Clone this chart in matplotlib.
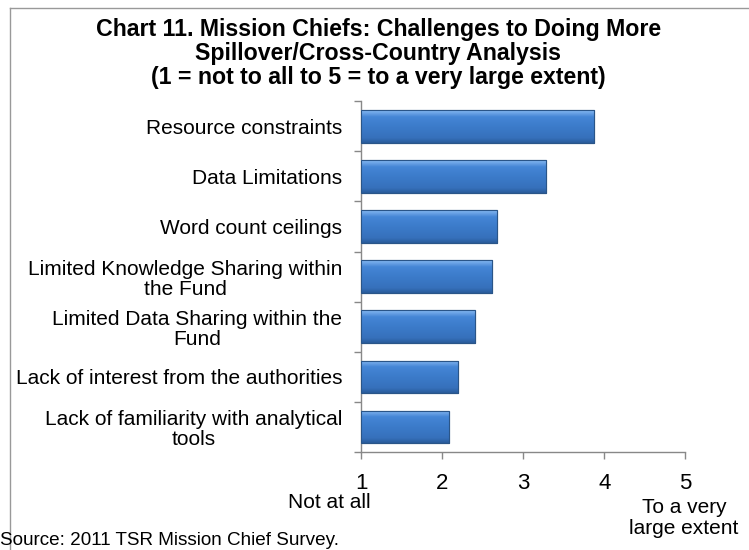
import numpy as np
import matplotlib.pyplot as plt
from matplotlib.colors import LinearSegmentedColormap

plt.rcParams['font.family'] = ['Liberation Sans', 'DejaVu Sans']

labels = ["Resource constraints",
          "Data Limitations",
          "Word count ceilings",
          "Limited Knowledge Sharing within\nthe Fund",
          "Limited Data Sharing within the\nFund",
          "Lack of interest from the authorities",
          "Lack of familiarity with analytical\ntools"]
scores = [3.87, 3.28, 2.68, 2.61, 2.41, 2.19, 2.09]
xticks = [1, 2, 3, 4, 5]

fig = plt.figure(figsize=(7.49, 5.5), dpi=100)
ax = fig.add_axes([0.482, 0.178, 0.433, 0.638])

# bevelled blue bars: gradient image clipped to each bar
grad = LinearSegmentedColormap.from_list(
    'bar', [(0, '#2A5C9C'), (0.15, '#3670BB'), (0.5, '#3C7BCA'),
            (0.8, '#4586D6'), (1, '#86B8F2')])
g = np.linspace(0, 1, 64).reshape(-1, 1)
n = len(labels)
y = np.arange(n)[::-1]
h = 0.65
bars = ax.barh(y, np.array(scores) - 1, left=1, height=h,
               color='#3F7FCF', edgecolor='#2A5588', linewidth=0.8, zorder=2)
for b in bars:
    x0, y0 = b.get_x(), b.get_y()
    im = ax.imshow(g, cmap=grad, aspect='auto', origin='lower',
                   extent=[x0, x0 + b.get_width(), y0, y0 + b.get_height()],
                   zorder=3)
    im.set_clip_path(b)
    ax.add_patch(plt.Rectangle((x0, y0), b.get_width(), b.get_height(),
                               fill=False, edgecolor='#2A5588', lw=0.8, zorder=4))

ax.set_xlim(1, 5)
ax.set_ylim(-0.5, n - 0.5)
ax.set_xticks(xticks)
ax.set_xticklabels([str(t) for t in xticks], fontsize=16)
ax.set_yticks(y)
ax.set_yticklabels(labels, fontsize=15, multialignment='center',
                   linespacing=1.08)
ax.set_yticks(np.arange(-0.5, n), minor=True)
ax.tick_params(axis='y', which='major', length=0, pad=13.5)
ax.tick_params(axis='y', which='minor', length=5, color='#888888', width=1)
ax.tick_params(axis='x', length=5, color='#888888', width=1, pad=10)
for s in ['top', 'right']:
    ax.spines[s].set_visible(False)
for s in ['left', 'bottom']:
    ax.spines[s].set_color('#888888')
    ax.spines[s].set_linewidth(1)

fig.text(0.505, 0.968, "Chart 11. Mission Chiefs: Challenges to Doing More\n"
         "Spillover/Cross-Country Analysis\n"
         "(1 = not to all to 5 = to a very large extent)",
         ha='center', va='top', fontsize=16.7, fontweight='bold',
         linespacing=1.07)

fig.text(329 / 749, 1 - 502 / 550, "Not at all", ha='center', va='center',
         fontsize=15)
fig.text(684 / 749, 1 - 518 / 550, "To a very\nlarge extent", ha='center',
         va='center', fontsize=15, linespacing=1.18)
fig.text(0.0, 0.009, "Source: 2011 TSR Mission Chief Survey.", ha='left',
         va='baseline', fontsize=13.6)

# frame around the chart area
fig.add_artist(plt.Line2D([0.0134, 1], [0.9855, 0.9855], color='#999999', lw=1))
fig.add_artist(plt.Line2D([0.0134, 0.0134], [0.9855, 0.0], color='#999999', lw=1))

fig.savefig('out.png', dpi=100)
